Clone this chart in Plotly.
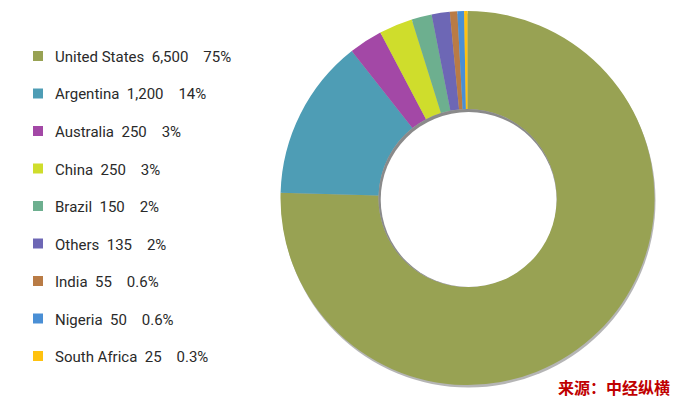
import plotly.graph_objects as go

countries = ["United States", "Argentina", "Australia", "China", "Brazil",
             "Others", "India", "Nigeria", "South Africa"]
values = [6500, 1200, 250, 250, 150, 135, 55, 50, 25]
value_labels = ["6,500", "1,200", "250", "250", "150", "135", "55", "50", "25"]
pct_labels = ["75%", "14%", "3%", "3%", "2%", "2%", "0.6%", "0.6%", "0.3%"]
colors = ["#98A253", "#4E9DB5", "#A348A6", "#CFDD2C", "#6DAF8F",
          "#6D67B5", "#B97B45", "#4A8FD5", "#FFC20F"]
source_text = "来源：中经纵横"

W, H = 677, 399
cx, cy, R, r_in = 467.5, 198, 187, 89

def px(x):
    return x / W

def py(y):
    return 1 - y / H

fig = go.Figure(go.Pie(
    labels=countries, values=values, sort=False, direction="clockwise",
    rotation=0, hole=r_in / R, textinfo="none", hoverinfo="label+value+percent",
    marker=dict(colors=colors, line=dict(width=0)),
    domain=dict(x=[px(cx - R), px(cx + R)], y=[py(cy + R), py(cy - R)]),
    showlegend=False,
))

shapes = [
    # outer drop shadow
    dict(type="circle", xref="paper", yref="paper", layer="below",
         x0=px(cx - R + 1), x1=px(cx + R + 1), y0=py(cy + R + 2.5), y1=py(cy - R + 2.5),
         fillcolor="rgba(120,120,120,0.55)", line=dict(width=0)),
    # inner shadow in hole
    dict(type="circle", xref="paper", yref="paper", layer="above",
         x0=px(cx - r_in), x1=px(cx + r_in), y0=py(cy + r_in), y1=py(cy - r_in),
         fillcolor="#8a8a8a", line=dict(width=0)),
    dict(type="circle", xref="paper", yref="paper", layer="above",
         x0=px(cx - r_in + 2.2), x1=px(cx + r_in), y0=py(cy + r_in), y1=py(cy - r_in + 3),
         fillcolor="white", line=dict(width=0)),
]

annotations = []
y0, dy = 57, 37.5
sp1 = "\u00a0" * 2
sp2 = "\u00a0" * 4
for i, (c, v, p, col) in enumerate(zip(countries, value_labels, pct_labels, colors)):
    yc = y0 + i * dy
    shapes.append(dict(type="rect", xref="paper", yref="paper",
                       x0=px(33), x1=px(43), y0=py(yc + 4), y1=py(yc - 6),
                       fillcolor=col, line=dict(width=0)))
    txt = f"{c}{sp1}{v}{sp2}{p}"
    annotations.append(dict(text=txt, xref="paper", yref="paper",
                            x=px(53), y=py(yc), xanchor="left", yanchor="middle",
                            showarrow=False,
                            font=dict(family="Roboto", size=15, color="#2a2a2a")))

annotations.append(dict(text=f"<b>{source_text}</b>", xref="paper", yref="paper",
                        x=px(672), y=py(387), xanchor="right", yanchor="middle",
                        showarrow=False,
                        font=dict(family="Noto Sans CJK SC", size=16, color="#C00000")))

fig.update_layout(width=W, height=H, margin=dict(l=0, r=0, t=0, b=0),
                  paper_bgcolor="white", plot_bgcolor="white",
                  shapes=shapes, annotations=annotations)

fig.write_html("out.html", config={"displayModeBar": False},
               post_script="document.body.style.margin='0';document.body.style.overflow='hidden';")
